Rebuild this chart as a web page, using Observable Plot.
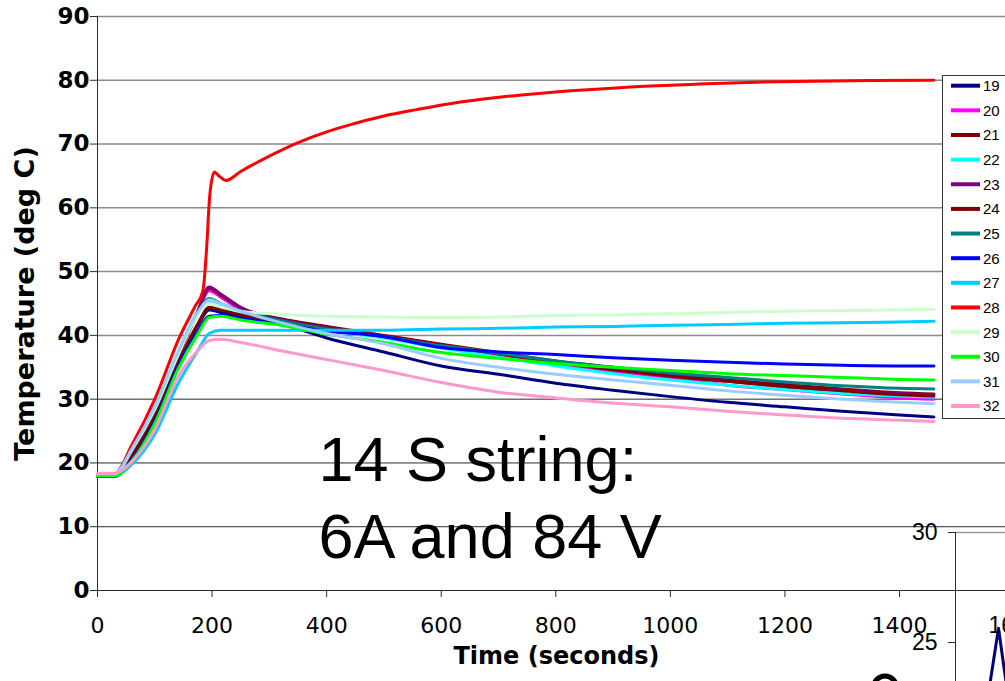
<!DOCTYPE html>
<html><head><meta charset="utf-8">
<script src="https://cdn.jsdelivr.net/npm/d3@7"></script>
<script src="https://cdn.jsdelivr.net/npm/@observablehq/plot@0.6"></script>
<style>
html,body{margin:0;padding:0;background:#fff;overflow:hidden}
#wrap{position:relative;width:1005px;height:681px;overflow:hidden;background:#fff}
#wrap > *{position:absolute}
</style></head><body><div id="wrap"></div>
<script>
// ---------- data ----------
const times = [0, 30, 60, 100, 140, 175, 195, 215, 250, 320, 400, 500, 600, 700, 800, 900, 1000, 1100, 1200, 1300, 1400, 1460];
const s19 = [17.9, 17.9, 20.8, 27.0, 35.0, 41.5, 44.0, 43.6, 43.0, 41.8, 39.6, 37.4, 35.2, 33.9, 32.5, 31.4, 30.4, 29.5, 28.8, 28.1, 27.5, 27.2];
const s20 = [18.2, 18.2, 22.0, 28.4, 36.8, 43.6, 47.0, 46.0, 44.0, 42.3, 41.0, 39.8, 38.2, 36.8, 35.4, 34.3, 33.4, 32.2, 31.5, 30.8, 30.2, 30.0];
const s21 = [18.1, 18.1, 21.8, 28.2, 36.6, 43.6, 47.4, 46.3, 44.3, 42.6, 41.4, 40.0, 38.6, 37.3, 36.0, 35.0, 34.0, 33.0, 32.3, 31.6, 31.0, 30.8];
const s22 = [18.2, 18.2, 22.0, 28.5, 37.0, 43.6, 45.2, 44.5, 43.5, 42.1, 40.8, 39.6, 38.0, 36.6, 35.2, 34.0, 33.0, 32.2, 31.5, 30.9, 30.5, 30.3];
const s23 = [18.1, 18.1, 21.8, 28.2, 36.6, 43.8, 47.6, 46.5, 44.4, 42.5, 41.2, 39.9, 38.5, 37.1, 35.8, 34.7, 33.7, 32.8, 32.0, 31.4, 30.9, 30.7];
const s24 = [18.0, 18.0, 21.2, 27.5, 35.6, 41.8, 44.4, 44.0, 43.2, 42.2, 41.0, 39.9, 38.5, 37.1, 35.8, 34.6, 33.6, 32.8, 32.0, 31.3, 30.7, 30.5];
const s25 = [18.2, 18.2, 22.0, 28.4, 36.9, 43.5, 45.8, 45.0, 43.8, 42.3, 41.0, 39.8, 38.4, 37.2, 36.0, 35.0, 34.1, 33.4, 32.7, 32.1, 31.7, 31.6];
const s26 = [17.9, 17.9, 20.5, 26.5, 35.0, 40.6, 43.0, 43.1, 42.7, 41.7, 40.7, 39.8, 38.1, 37.4, 37.0, 36.5, 36.1, 35.8, 35.5, 35.3, 35.2, 35.2];
const s27 = [18.0, 18.0, 19.8, 24.5, 32.3, 37.6, 40.3, 40.8, 40.8, 40.8, 40.8, 40.8, 41.0, 41.1, 41.3, 41.4, 41.6, 41.7, 41.9, 42.0, 42.1, 42.2];
const s29 = [18.2, 18.2, 22.0, 28.4, 36.8, 43.2, 45.0, 44.5, 43.8, 43.3, 43.0, 42.9, 42.8, 42.9, 43.1, 43.2, 43.4, 43.6, 43.8, 43.9, 44.0, 44.1];
const s30 = [18.0, 18.0, 20.3, 26.2, 34.6, 40.2, 42.8, 43.0, 42.4, 41.6, 40.2, 38.9, 37.3, 36.4, 35.6, 35.0, 34.5, 34.0, 33.7, 33.4, 33.1, 33.0];
const s31 = [18.3, 18.3, 22.2, 28.8, 37.3, 43.6, 45.6, 45.0, 43.8, 42.0, 40.3, 38.7, 36.4, 35.0, 33.9, 33.0, 32.2, 31.3, 30.6, 30.0, 29.5, 29.3];
const s32 = [18.4, 18.4, 20.2, 25.2, 33.4, 37.6, 39.2, 39.4, 38.9, 37.6, 36.2, 34.5, 32.6, 31.1, 30.2, 29.4, 28.8, 28.1, 27.5, 27.0, 26.7, 26.5];
// series 28 (own time base)
const times28 = [0, 30, 60, 100, 143, 170, 184, 190, 196, 204, 212, 224, 250, 300, 347, 400, 440, 500, 557, 620, 674, 740, 790, 870, 965, 1050, 1150, 1250, 1350, 1460];
const s28 = [18.2, 18.3, 22.8, 30.0, 39.7, 44.5, 47.0, 53.0, 62.0, 65.6, 65.0, 64.3, 65.7, 68.1, 70.1, 71.9, 73.0, 74.4, 75.4, 76.4, 77.05, 77.7, 78.1, 78.6, 79.1, 79.4, 79.7, 79.85, 79.95, 80.0];

const seriesNames  = ["19","20","21","22","23","24","25","26","27","28","29","30","31","32"];
const seriesColors = ["#000080","#FF00FF","#800000","#00FFFF","#800080","#800000","#008080","#0000FF","#00CCFF","#FF0000","#CCFFCC","#00FF00","#99CCFF","#FF99CC"];

const yTicks = [0, 10, 20, 30, 40, 50, 60, 70, 80, 90];
const xTicks = [0, 200, 400, 600, 800, 1000, 1200, 1400];
const xTitle = "Time (seconds)";
const yTitle = "Temperature (deg C)";
const annotation = ["14 S string:", "6A and 84 V"];

// partially visible inset chart (bottom right)
const insetTicks = [25, 30];
const insetX = [32, 43, 53];
const insetY = [22.4, 25.65, 22.4];
const insetLabel = "16";

// ---------- build rows ----------
const seriesValues = {"19":s19,"20":s20,"21":s21,"22":s22,"23":s23,"24":s24,"25":s25,"26":s26,"27":s27,"28":s28,"29":s29,"30":s30,"31":s31,"32":s32};
const rows = [];
for (const name of seriesNames) {
  const vals = seriesValues[name];
  const ts = name === "28" ? times28 : times;
  vals.forEach((v, i) => rows.push({s: name, t: ts[i], v}));
}

const wrap = document.getElementById("wrap");

// ---------- main chart ----------
const main = Plot.plot({
  width: 1005, height: 681,
  marginTop: 16, marginBottom: 91, marginLeft: 97, marginRight: 0,
  x: {domain: [0, 1585]},
  y: {domain: [0, 90]},
  color: {domain: seriesNames, range: seriesColors},
  style: {fontFamily: "DejaVu Sans", background: "transparent", color: "#000"},
  marks: [
    Plot.ruleY(yTicks.filter(d => d >= 40), {stroke: "#8a8a8a", strokeWidth: 1.5}),
    Plot.ruleY(yTicks.filter(d => d > 0 && d < 40), {stroke: "#2a2a2a", strokeWidth: 1}),
    Plot.ruleY([0], {stroke: "#2a2a2a", strokeWidth: 1}),
    Plot.ruleX([0], {stroke: "#2a2a2a", strokeWidth: 1}),
    Plot.axisY(yTicks, {tickSize: 7, tickPadding: 1, fontSize: 23, fontWeight: "bold", label: null, stroke: "#2a2a2a", tickFormat: d => String(d)}),
    Plot.axisX(xTicks, {tickSize: 7, tickPadding: 20, fontSize: 22, label: null, stroke: "#2a2a2a", tickFormat: d => String(d)}),
    Plot.line(rows, {x: "t", y: "v", z: "s", stroke: "s", strokeWidth: 3, curve: "monotone-x"}),
    Plot.text([yTitle], {frameAnchor: "left", textAnchor: "middle", rotate: -90, dx: -72, fontSize: 27, fontWeight: "bold", fill: "#000"}),
    Plot.text([xTitle], {frameAnchor: "bottom", textAnchor: "middle", dx: 5, dy: 73, fontSize: 24, fontWeight: "bold", fill: "#000"}),
    Plot.text([annotation.join("\n")], {frameAnchor: "top-left", dx: 221, dy: 478, textAnchor: "start", lineAnchor: "middle", lineHeight: 1.222, fontSize: 63, fontFamily: "Liberation Sans", fill: "#000"})
  ]
});
main.style.left = "0px"; main.style.top = "0px";
d3.select(main).selectAll('g[aria-label="y-axis tick label"]').style("font-weight", "bold");
wrap.appendChild(main);

// ---------- legend ----------
const legend = d3.create("svg")
  .attr("width", 80).attr("height", 345)
  .style("left", "942px").style("top", "75px");
legend.append("rect").attr("x", 0.5).attr("y", 0.5).attr("width", 90).attr("height", 343)
  .attr("fill", "#fff").attr("stroke", "#333");
seriesNames.forEach((name, i) => {
  const y = 10.7 + 24.64 * i;
  legend.append("line").attr("x1", 9).attr("x2", 38).attr("y1", y).attr("y2", y)
    .attr("stroke", seriesColors[i]).attr("stroke-width", 4);
  legend.append("text").attr("x", 41).attr("y", y).attr("dy", "0.36em")
    .style("font", "15px 'Liberation Sans', Arial, sans-serif").attr("fill", "#000").text(name);
});
wrap.appendChild(legend.node());

// ---------- inset (partially visible second chart) ----------
const insetRows = insetX.map((x, i) => ({x, y: insetY[i]}));
const inset = Plot.plot({
  width: 105, height: 350,
  marginLeft: 55, marginTop: 20, marginBottom: 0, marginRight: 0,
  x: {domain: [0, 50], axis: null},
  y: {domain: [15, 30], axis: null},
  style: {fontFamily: "Liberation Sans", fontSize: "23px", background: "transparent", color: "#000"},
  marks: [
    Plot.ruleY([30], {stroke: "#9a9a9a", strokeWidth: 1.5}),
    Plot.ruleX([0], {stroke: "#2a2a2a"}),
    Plot.axisY(insetTicks, {tickSize: 7, tickPadding: 11, fontSize: 23, label: null, stroke: "#2a2a2a"}),
    Plot.line(insetRows, {x: "x", y: "y", stroke: "#000080", strokeWidth: 3}),
    Plot.text([insetLabel], {x: () => 33, y: () => 25.75, textAnchor: "start", fontSize: 23, fill: "#000"})
  ]
});
inset.style.left = "900px"; inset.style.top = "512px";
d3.select(inset).selectAll("text").style("font-size", "23px");
wrap.appendChild(inset);

// fragment of a shape at the bottom edge
const frag = d3.create("svg").attr("width", 40).attr("height", 20)
  .style("left", "865px").style("top", "665px");
frag.append("ellipse").attr("cx", 20).attr("cy", 24).attr("rx", 12).attr("ry", 13)
  .attr("fill", "none").attr("stroke", "#000").attr("stroke-width", 5);
wrap.appendChild(frag.node());
</script>
</body></html>
